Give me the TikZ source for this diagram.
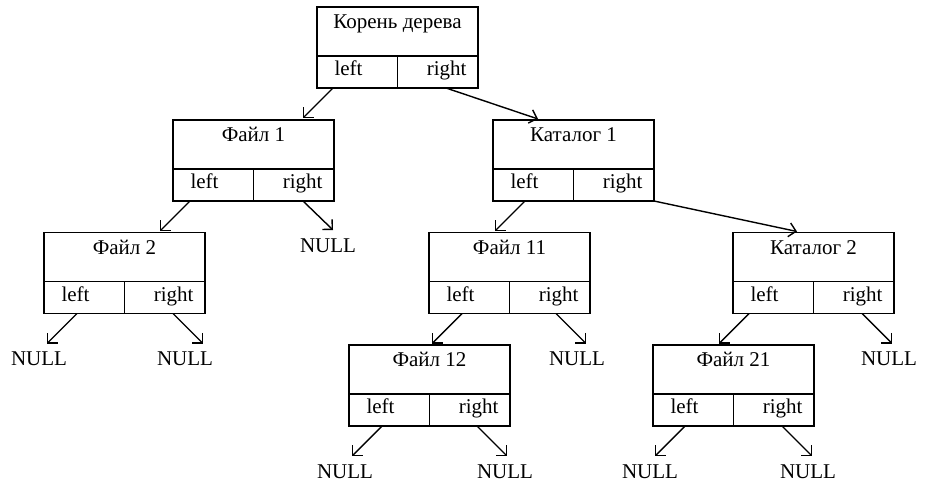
\documentclass[tikz,border=0pt]{standalone}
\usepackage{fontspec}
\setmainfont{Liberation Serif}
\usetikzlibrary{arrows.meta,calc}

% One record of the tree: title part on top, "left" and "right" cells below.
% #1 name, #2 left x, #3 top y, #4 title
\newcommand\treerecord[4]{%
  \node[titlebox, anchor=north west] (#1) at (#2,#3) {};
  \node[cellbox, anchor=north west] (#1-l) at (#1.south west) {};
  \node[cellbox, anchor=north east] (#1-r) at (#1.south east) {};
  \node[anchor=base] (#1-name) at ($(#1.north)+(0,21.5)$) {#4};
  \node[anchor=base west] (#1-left) at ($(#1-l.south west)+(17.5,-12.5)$) {left};
  \node[anchor=base east] (#1-right) at ($(#1-r.south east)+(-11.5,-12.5)$) {right};
}

\begin{document}
\begin{tikzpicture}[x=1pt, y=-1pt,
  every node/.style={inner sep=0pt, outer sep=0pt, font=\fontsize{21}{25}\selectfont},
  titlebox/.style={draw, line width=1.2pt, minimum width=161pt, minimum height=49pt},
  cellbox/.style={draw, line width=1.2pt, minimum width=80.5pt, minimum height=32pt},
  ptr/.style={line width=1.4pt, -{Straight Barb[length=7pt,width=14pt]}},
]
\useasboundingbox (0,0) rectangle (933,481);

% records
\treerecord{root}{317}{7}{Корень дерева}
\treerecord{f1}{173}{120}{Файл 1}
\treerecord{k1}{493}{120}{Каталог 1}
\treerecord{f2}{44}{232.5}{Файл 2}
\treerecord{f11}{429}{232.5}{Файл 11}
\treerecord{k2}{733}{232.5}{Каталог 2}
\treerecord{f12}{349}{345}{Файл 12}
\treerecord{f21}{653}{345}{Файл 21}

% empty pointers
\node (n1) at (328,245.5) {NULL};
\node (n2) at (39,358.5) {NULL};
\node (n3) at (185,358.5) {NULL};
\node (n4) at (577,358.5) {NULL};
\node (n5) at (889,358.5) {NULL};
\node (n6) at (345,471.5) {NULL};
\node (n7) at (505,471.5) {NULL};
\node (n8) at (650,471.5) {NULL};
\node (n9) at (808,471.5) {NULL};

% pointers to child records
\draw[ptr] ($(root-l.south west)+(16,0)$) -- ++(-30,30);
\draw[ptr] ($(root-r.south east)+(-32,0)$) -- ($(k1.north west)+(45,-1)$);
\draw[ptr] ($(f1-l.south west)+(17,0)$) -- ++(-30,30);
\draw[ptr] ($(k1-l.south west)+(32,0)$) -- ++(-30,30);
\draw[ptr] (k1-r.south east) -- ($(k2.north west)+(64,-1)$);
\draw[ptr] ($(f11-l.south west)+(33,0)$) -- ++(-30,30);
\draw[ptr] ($(k2-l.south west)+(16,0)$) -- ++(-30,30);

% pointers to NULL
\draw[ptr] ($(f1-r.south east)+(-31,0)$) -- ++(30,29);
\draw[ptr] ($(f2-l.south west)+(33,0)$) -- ++(-30,30);
\draw[ptr] ($(f2-r.south east)+(-32,0)$) -- ++(30,30);
\draw[ptr] ($(f11-r.south east)+(-34,0)$) -- ++(30,30);
\draw[ptr] ($(k2-r.south east)+(-32,0)$) -- ++(30,30);
\draw[ptr] ($(f12-l.south west)+(33,0)$) -- ++(-30,30);
\draw[ptr] ($(f12-r.south east)+(-33,0)$) -- ++(30,30);
\draw[ptr] ($(f21-l.south west)+(32,0)$) -- ++(-30,30);
\draw[ptr] ($(f21-r.south east)+(-32,0)$) -- ++(30,30);
\end{tikzpicture}
\end{document}
